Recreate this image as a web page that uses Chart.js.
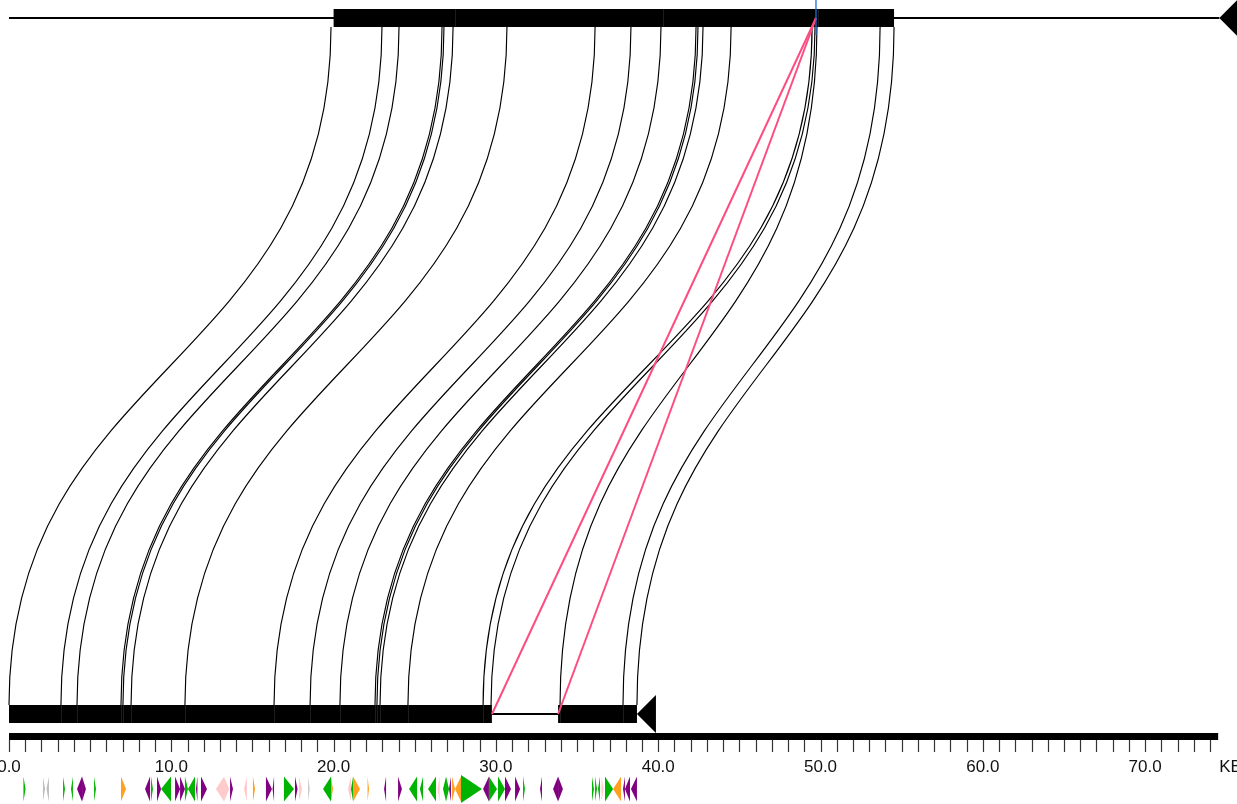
<!DOCTYPE html>
<html>
<head>
<meta charset="utf-8">
<script src="https://cdn.jsdelivr.net/npm/chart.js@4.4.1/dist/chart.umd.min.js"></script>
<style>
  body { margin: 0; background: #fff; }
  canvas { display: block; }
</style>
</head>
<body>
<canvas id="chart" width="1237" height="804"></canvas>
<script>
// positions in kb
let topLength = 75.74
let bottomLength = 39.86
let arrowKb = 1.17
let axisEnd = 74.5

let topBlocks = [[20.0, 54.53]]
let topBreaks = [27.5, 40.3, 49.85]
let bottomBlocks = [[0, 29.76], [33.83, 38.69]]

// matched regions: top position -> bottom position
let topLinkKb = [19.84, 22.98, 24.03, 26.68, 26.80, 27.36, 30.68, 36.11, 38.32, 40.17, 42.33, 42.45, 42.76, 44.49, 49.48, 49.66, 49.78, 53.67, 54.53]
let bottomLinkKb = [0, 3.20, 4.19, 6.90, 7.02, 7.52, 10.84, 16.33, 18.55, 20.39, 22.55, 22.67, 22.86, 24.58, 29.21, 29.70, 33.95, 37.83, 38.69]

// inverted hits (pink)
let invTopKb = [49.72, 49.72]
let invBottomKb = [29.76, 33.83]
let markerKb = 49.72

let tickLabelKb = [0, 10, 20, 30, 40, 50, 60, 70]
let tickLabels = ['0.0', '10.0', '20.0', '30.0', '40.0', '50.0', '60.0', '70.0']

// genes on the bottom sequence
let geneStart = [0.89, 2.09, 2.31, 3.33, 3.82, 4.19, 4.50, 5.24, 6.90, 8.38, 8.75, 9.12, 9.37, 10.23, 10.54, 10.84, 11.03, 11.52, 11.83, 12.75, 13.25, 13.62, 14.48, 15.03, 15.83, 16.24, 16.94, 17.62, 17.87, 18.45, 19.35, 19.84, 20.89, 21.07, 21.20, 22.09, 23.11, 23.97, 24.65, 25.32, 25.82, 26.40, 26.74, 26.93, 27.11, 27.30, 27.48, 27.85, 29.21, 29.57, 30.13, 30.56, 31.18, 31.67, 32.72, 33.52, 33.83, 35.92, 36.11, 36.29, 36.51, 36.72, 37.22, 37.83, 37.95, 38.32]
let geneEnd = [1.02, 2.22, 2.46, 3.45, 3.94, 4.50, 4.74, 5.36, 7.21, 8.69, 8.87, 9.37, 9.98, 10.54, 10.84, 11.03, 11.46, 11.61, 12.20, 13.25, 13.56, 13.80, 14.66, 15.16, 16.20, 16.33, 17.56, 17.78, 18.05, 18.51, 19.84, 19.96, 21.07, 21.20, 21.63, 22.18, 23.23, 24.21, 25.14, 25.51, 26.31, 26.53, 26.93, 27.11, 27.23, 27.48, 27.85, 29.14, 29.57, 30.07, 30.56, 30.93, 31.49, 31.79, 32.84, 33.83, 34.13, 36.04, 36.23, 36.41, 36.63, 37.22, 37.71, 37.95, 38.26, 38.69]
let geneStrand = [1, 1, -1, 1, -1, -1, 1, 1, 1, -1, 1, 1, -1, 1, 1, 1, -1, -1, 1, -1, 1, 1, -1, 1, 1, -1, 1, 1, 1, 1, -1, 1, -1, -1, 1, 1, -1, 1, -1, -1, -1, -1, -1, 1, -1, 1, -1, 1, -1, 1, 1, 1, 1, 1, -1, -1, 1, 1, 1, -1, 1, 1, -1, -1, -1, -1]
let geneType = ['g', 'n', 'n', 'g', 'g', 'p', 'p', 'g', 'o', 'p', 'g', 'p', 'g', 'p', 'p', 'g', 'g', 'p', 'p', 'k', 'k', 'p', 'k', 'o', 'p', 'p', 'g', 'p', 'k', 'n', 'g', 'o', 'k', 'g', 'o', 'o', 'p', 'p', 'g', 'g', 'g', 'k', 'g', 'g', 'p', 'o', 'o', 'g', 'p', 'g', 'g', 'p', 'p', 'g', 'p', 'p', 'p', 'g', 'g', 'g', 'k', 'g', 'o', 'p', 'p', 'p']

let typeColor = { g: '#00b300', p: '#800080', o: '#ffa020', k: '#ffcaca', n: '#bdbdbd' }

let topTrack = 1
let bottomTrack = 0

function drawTrack(ctx, xs, ty, length, blocks, breaks) {
  let x0 = xs.getPixelForValue(0)
  let tip = xs.getPixelForValue(length - arrowKb)
  let base = xs.getPixelForValue(length)

  ctx.strokeStyle = '#000'
  ctx.lineWidth = 2
  ctx.beginPath()
  ctx.moveTo(x0, ty)
  ctx.lineTo(tip, ty)
  ctx.stroke()

  ctx.fillStyle = '#000'
  blocks.forEach(function (b) {
    let a = xs.getPixelForValue(b[0])
    let c = xs.getPixelForValue(b[1])
    ctx.fillRect(a, ty - 9, c - a, 18)
  })

  ctx.strokeStyle = '#1c1c1c'
  ctx.lineWidth = 1
  breaks.forEach(function (k) {
    let p = Math.round(xs.getPixelForValue(k)) + 0.5
    ctx.beginPath()
    ctx.moveTo(p, ty - 9)
    ctx.lineTo(p, ty + 9)
    ctx.stroke()
  })

  ctx.fillStyle = '#000'
  ctx.beginPath()
  ctx.moveTo(tip, ty)
  ctx.lineTo(base, ty - 19)
  ctx.lineTo(base, ty + 19)
  ctx.closePath()
  ctx.fill()
}

const syntenyPlugin = {
  id: 'synteny',
  beforeDatasetsDraw(chart) {
    let ctx = chart.ctx
    let xs = chart.scales.x
    let ys = chart.scales.y
    let topY = ys.getPixelForValue(topTrack)
    let botY = ys.getPixelForValue(bottomTrack)

    ctx.save()

    // links
    let y1 = topY + 9
    let y2 = botY - 9
    let ym = (y1 + y2) / 2
    ctx.strokeStyle = '#000'
    ctx.lineWidth = 1.15
    for (let i = 0; i < topLinkKb.length; i++) {
      let a = xs.getPixelForValue(topLinkKb[i])
      let b = xs.getPixelForValue(bottomLinkKb[i])
      ctx.beginPath()
      ctx.moveTo(a, y1)
      ctx.bezierCurveTo(a, ym, b, ym, b, y2)
      ctx.stroke()
    }

    drawTrack(ctx, xs, topY, topLength, topBlocks, topBreaks)
    drawTrack(ctx, xs, botY, bottomLength, bottomBlocks, bottomLinkKb.slice(1, -1))

    // ruler
    let barTop = botY + 19
    let r0 = xs.getPixelForValue(0)
    let r1 = xs.getPixelForValue(axisEnd)
    ctx.fillStyle = '#000'
    ctx.fillRect(r0, barTop, r1 - r0, 7)

    ctx.strokeStyle = '#333'
    ctx.lineWidth = 1.2
    for (let k = 0; k <= Math.floor(axisEnd); k++) {
      let p = Math.round(xs.getPixelForValue(k)) + 0.5
      ctx.beginPath()
      ctx.moveTo(p, barTop + 7)
      ctx.lineTo(p, barTop + 19)
      ctx.stroke()
    }

    ctx.fillStyle = '#111'
    ctx.font = '17px "Liberation Sans", Arial, sans-serif'
    ctx.textAlign = 'center'
    ctx.textBaseline = 'alphabetic'
    for (let i = 0; i < tickLabels.length; i++) {
      ctx.fillText(tickLabels[i], xs.getPixelForValue(tickLabelKb[i]), barTop + 39)
    }
    ctx.textAlign = 'left'
    ctx.fillText('KB', r1 + 1, barTop + 39)

    // genes
    let gy = botY + 75
    for (let i = 0; i < geneStart.length; i++) {
      let a = xs.getPixelForValue(geneStart[i])
      let b = xs.getPixelForValue(geneEnd[i])
      if (b - a < 1.4) {
        let m = (a + b) / 2
        a = m - 0.7
        b = m + 0.7
      }
      let h = b - a > 15 ? 14 : 12.5
      ctx.fillStyle = typeColor[geneType[i]]
      ctx.beginPath()
      if (geneStrand[i] > 0) {
        ctx.moveTo(a, gy - h)
        ctx.lineTo(b, gy)
        ctx.lineTo(a, gy + h)
      } else {
        ctx.moveTo(b, gy - h)
        ctx.lineTo(a, gy)
        ctx.lineTo(b, gy + h)
      }
      ctx.closePath()
      ctx.fill()
    }

    ctx.restore()
  },
  afterDatasetsDraw(chart) {
    let ctx = chart.ctx
    let xs = chart.scales.x
    let ys = chart.scales.y
    let topY = ys.getPixelForValue(topTrack)
    let p = xs.getPixelForValue(markerKb)
    ctx.save()
    ctx.strokeStyle = '#1a6fd6'
    ctx.lineWidth = 1.3
    ctx.beginPath()
    ctx.moveTo(p, topY - 18)
    ctx.lineTo(p, topY + 17)
    ctx.stroke()
    ctx.restore()
  }
}

let invDatasets = invTopKb.map(function (t, i) {
  return {
    data: [{ x: t, y: topTrack }, { x: invBottomKb[i], y: bottomTrack }],
    showLine: true,
    borderColor: '#fd4d80',
    borderWidth: 2,
    pointRadius: 0,
    clip: false
  }
})

new Chart(document.getElementById('chart'), {
  type: 'scatter',
  data: { datasets: invDatasets },
  options: {
    responsive: false,
    devicePixelRatio: 1,
    animation: false,
    layout: { padding: 0 },
    plugins: { legend: { display: false }, tooltip: { enabled: false } },
    scales: {
      x: { type: 'linear', display: false, min: -0.5545, max: 75.66 },
      y: { type: 'linear', display: false, min: -0.1293, max: 1.02586 }
    }
  },
  plugins: [syntenyPlugin]
})
</script>
</body>
</html>
